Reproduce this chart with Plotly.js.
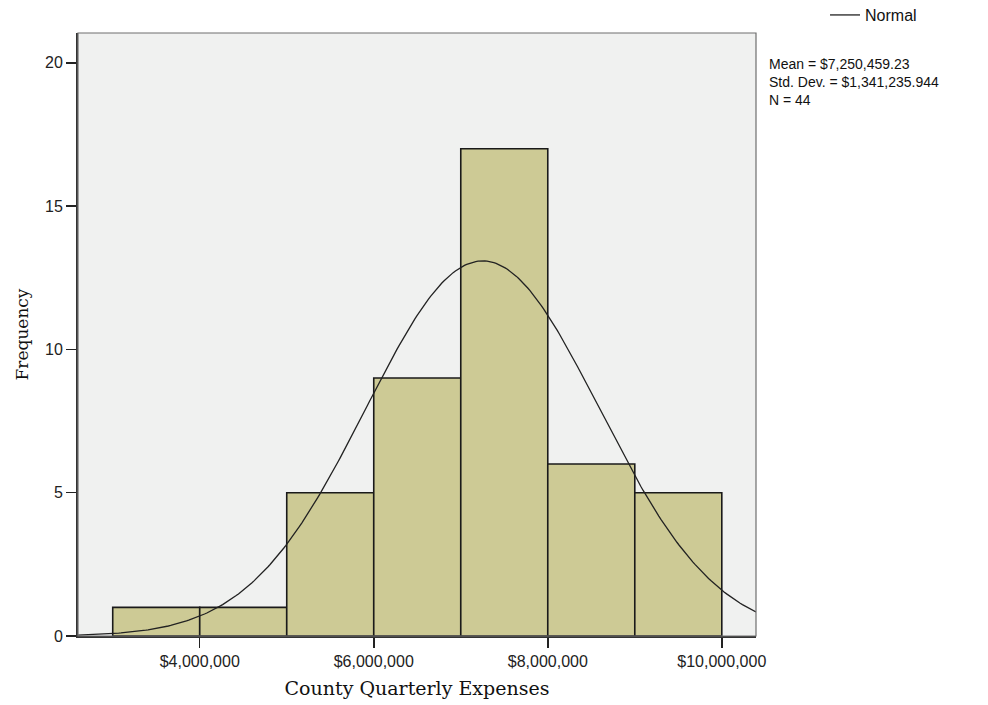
<!DOCTYPE html>
<html>
<head>
<meta charset="utf-8">
<script src="https://cdn.plot.ly/plotly-3.0.1.min.js"></script>
<style>
  html, body { margin: 0; padding: 0; background: #ffffff; }
  #chart { width: 988px; height: 705px; }
</style>
</head>
<body>
<div id="chart"></div>
<script>
// Histogram of county quarterly expenses with a fitted normal curve
const binStarts = [3000000, 4000000, 5000000, 6000000, 7000000, 8000000, 9000000];
const binWidth = 1000000;
const frequencies = [1, 1, 5, 9, 17, 6, 5];

const meanValue = 7250459.23;
const stdDev = 1341235.944;
const sampleSize = 44;

const xTickValues = [4000000, 6000000, 8000000, 10000000];
const xTickLabels = ['$4,000,000', '$6,000,000', '$8,000,000', '$10,000,000'];
const yTickValues = [0, 5, 10, 15, 20];

const xRange = [2601000, 10393000];
const yRange = [0, 21.04];

// bar centres from the bin edges
const binCentres = binStarts.map(s => s + binWidth / 2);

// normal density scaled to counts per bin, from the stated mean and SD
const curveX = [];
const curveY = [];
const steps = 300;
for (let i = 0; i <= steps; i++) {
  const x = xRange[0] + (xRange[1] - xRange[0]) * i / steps;
  const z = (x - meanValue) / stdDev;
  curveX.push(x);
  curveY.push(sampleSize * binWidth / (stdDev * Math.sqrt(2 * Math.PI)) * Math.exp(-0.5 * z * z));
}

const fmtMoney = (v, d) => '$' + v.toLocaleString('en-US', { minimumFractionDigits: d, maximumFractionDigits: d });

const bars = {
  type: 'bar',
  x: binCentres,
  y: frequencies,
  width: binStarts.map(() => binWidth),
  marker: { color: '#cdca95', line: { color: '#1a1a1a', width: 1.6 } },
  showlegend: false,
  hoverinfo: 'x+y'
};

const normal = {
  type: 'scatter',
  mode: 'lines',
  x: curveX,
  y: curveY,
  name: 'Normal',
  line: { color: '#222222', width: 1.3 },
  showlegend: true
};

const sans = 'Liberation Sans, Arial, sans-serif';
const serif = 'DejaVu Serif, serif';

const statsText = [
  'Mean = ' + fmtMoney(meanValue, 2),
  'Std. Dev. = ' + fmtMoney(stdDev, 3),
  'N = ' + sampleSize
].join('<br>');

const layout = {
  width: 988,
  height: 705,
  margin: { l: 78, r: 232, t: 33, b: 69, autoexpand: false },
  paper_bgcolor: '#ffffff',
  plot_bgcolor: '#f0f1f0',
  bargap: 0,
  xaxis: {
    range: xRange,
    tickvals: xTickValues,
    ticktext: xTickLabels,
    ticks: 'outside',
    ticklen: 10,
    tickwidth: 1.5,
    tickcolor: '#222222',
    showgrid: false,
    zeroline: false,
    showline: true,
    linecolor: '#333333',
    linewidth: 2,
    tickfont: { family: sans, size: 16, color: '#222222' },
    title: { text: 'County Quarterly Expenses', font: { family: serif, size: 19, color: '#111111' }, standoff: 12 }
  },
  yaxis: {
    range: yRange,
    tickvals: yTickValues,
    ticks: 'outside',
    ticklen: 10,
    tickwidth: 1.5,
    tickcolor: '#222222',
    showgrid: false,
    zeroline: false,
    showline: true,
    linecolor: '#333333',
    linewidth: 2,
    tickfont: { family: sans, size: 16, color: '#222222' },
    title: { text: 'Frequency', font: { family: serif, size: 17, color: '#111111' }, standoff: 12 }
  },
  showlegend: true,
  legend: {
    x: 1.1018, xanchor: 'left',
    y: 1.0298, yanchor: 'middle',
    bgcolor: 'rgba(0,0,0,0)',
    borderwidth: 0,
    font: { family: sans, size: 16, color: '#111111' }
  },
  shapes: [
    { type: 'rect', xref: 'paper', yref: 'paper', x0: 0, x1: 1, y0: 0, y1: 1,
      line: { color: '#6e6e6e', width: 1.2 }, fillcolor: 'rgba(0,0,0,0)', layer: 'above' }
  ],
  annotations: [
    {
      text: statsText,
      xref: 'paper', yref: 'paper',
      x: (767 - 78) / 678, xanchor: 'left',
      y: (636 - 82) / 603, yanchor: 'middle',
      align: 'left',
      showarrow: false,
      font: { family: sans, size: 14, color: '#111111' }
    }
  ]
};

Plotly.newPlot('chart', [bars, normal], layout, { displayModeBar: false, staticPlot: true });
</script>
</body>
</html>
